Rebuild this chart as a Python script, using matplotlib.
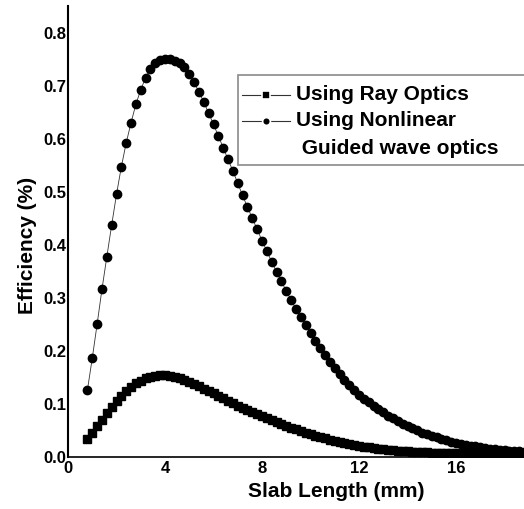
import matplotlib
matplotlib.use("Agg")
import matplotlib.pyplot as plt
from matplotlib.lines import Line2D
from matplotlib.patches import Rectangle

plt.rcParams['font.family'] = ['Liberation Sans', 'DejaVu Sans']
plt.rcParams['font.weight'] = 'bold'

# Slab length (mm), sampled every 0.2 mm
slab_length = [
    0.8, 1.0, 1.2, 1.4, 1.6, 1.8, 2.0, 2.2, 2.4, 2.6, 2.8, 3.0, 3.2, 3.4, 3.6, 3.8,
    4.0, 4.2, 4.4, 4.6, 4.8, 5.0, 5.2, 5.4, 5.6, 5.8, 6.0, 6.2, 6.4, 6.6, 6.8, 7.0,
    7.2, 7.4, 7.6, 7.8, 8.0, 8.2, 8.4, 8.6, 8.8, 9.0, 9.2, 9.4, 9.6, 9.8, 10.0, 10.2,
    10.4, 10.6, 10.8, 11.0, 11.2, 11.4, 11.6, 11.8, 12.0, 12.2, 12.4, 12.6, 12.8, 13.0,
    13.2, 13.4, 13.6, 13.8, 14.0, 14.2, 14.4, 14.6, 14.8, 15.0, 15.2, 15.4, 15.6, 15.8,
    16.0, 16.2, 16.4, 16.6, 16.8, 17.0, 17.2, 17.4, 17.6, 17.8, 18.0, 18.2, 18.4, 18.6,
    18.8, 19.0,
]

# Efficiency (%) - ray optics (squares)
eff_ray = [
    0.034, 0.046, 0.058, 0.070, 0.082, 0.094, 0.105, 0.115, 0.124, 0.132, 0.139, 0.144,
    0.148, 0.151, 0.153, 0.154, 0.154, 0.153, 0.151, 0.148, 0.145, 0.141, 0.137, 0.133,
    0.129, 0.124, 0.120, 0.115, 0.111, 0.106, 0.101, 0.097, 0.093, 0.089, 0.085, 0.081,
    0.077, 0.073, 0.069, 0.066, 0.062, 0.059, 0.055, 0.052, 0.049, 0.046, 0.043, 0.040,
    0.037, 0.035, 0.032, 0.030, 0.028, 0.026, 0.024, 0.022, 0.021, 0.019, 0.018, 0.017,
    0.016, 0.015, 0.014, 0.013, 0.012, 0.011, 0.011, 0.010, 0.010, 0.009, 0.009, 0.008,
    0.008, 0.008, 0.007, 0.007, 0.007, 0.007, 0.006, 0.006, 0.006, 0.006, 0.006, 0.005,
    0.005, 0.005, 0.005, 0.005, 0.005, 0.005, 0.005, 0.005,
]

# Efficiency (%) - nonlinear guided wave optics (circles)
eff_guided = [
    0.126, 0.186, 0.250, 0.316, 0.377, 0.437, 0.495, 0.547, 0.592, 0.630, 0.665, 0.692,
    0.715, 0.732, 0.743, 0.749, 0.751, 0.750, 0.747, 0.742, 0.735, 0.722, 0.706, 0.688,
    0.669, 0.648, 0.627, 0.605, 0.583, 0.561, 0.539, 0.516, 0.493, 0.471, 0.450, 0.429,
    0.408, 0.388, 0.368, 0.349, 0.331, 0.313, 0.296, 0.279, 0.263, 0.248, 0.233, 0.219,
    0.205, 0.192, 0.179, 0.167, 0.156, 0.145, 0.135, 0.126, 0.117, 0.110, 0.103, 0.096,
    0.090, 0.084, 0.078, 0.073, 0.068, 0.063, 0.058, 0.054, 0.050, 0.046, 0.043, 0.040,
    0.037, 0.034, 0.032, 0.029, 0.027, 0.025, 0.023, 0.021, 0.020, 0.018, 0.017, 0.016,
    0.015, 0.014, 0.013, 0.012, 0.011, 0.011, 0.010, 0.010,
]

x_ticks = [0, 4, 8, 12, 16]
y_ticks = [0.0, 0.1, 0.2, 0.3, 0.4, 0.5, 0.6, 0.7, 0.8]
legend_labels = ['Using Ray Optics', 'Using Nonlinear', ' Guided wave optics']

W, H = 524, 509
fig = plt.figure(figsize=(W / 100, H / 100), dpi=100)
ax = fig.add_axes([68 / W, 52 / H, 1 - 68 / W, 451 / H])

ax.plot(slab_length, eff_guided, color='#333333', lw=0.6, marker='o', ms=6.0,
        mfc='black', mec='black')
ax.plot(slab_length, eff_ray, color='#333333', lw=0.6, marker='s', ms=5.6,
        mfc='black', mec='black')

ax.set_xlim(0, (W - 68) / 24.25)
ax.set_ylim(0, 0.85)
ax.set_xticks(x_ticks)
ax.set_yticks(y_ticks)
ax.set_yticklabels([f'{v:.1f}' for v in y_ticks])
ax.tick_params(length=0, labelsize=12)
ax.tick_params(axis='y', pad=1)
ax.tick_params(axis='x', pad=3)
for lab in ax.get_xticklabels() + ax.get_yticklabels():
    lab.set_fontweight('bold')

ax.spines['top'].set_visible(False)
ax.spines['right'].set_visible(False)
ax.spines['left'].set_linewidth(1.5)
ax.spines['bottom'].set_linewidth(1.2)

# the original axis runs past the right edge, so the x label sits right of centre
ax.set_xlabel('Slab Length (mm)', fontsize=15, fontweight='bold')
ax.set_ylabel('Efficiency (%)', fontsize=15, fontweight='bold')
ax.xaxis.set_label_coords((336 - 68) / 456, -0.056)
ax.yaxis.set_label_coords(-0.068, 0.468)


# legend drawn by hand, positions in pixels
def fx(px):
    return px / W


def fy(py):
    return 1 - py / H


fig.patches.append(Rectangle((fx(238), fy(165)), fx(320), 90 / H, transform=fig.transFigure,
                             facecolor='white', edgecolor='#8a8a8a', lw=1.2, zorder=5))
rows = [(95, 's', 5.2), (121, 'o', 5.6)]
for (py, mk, ms) in rows:
    fig.lines.append(Line2D([fx(242), fx(290)], [fy(py), fy(py)], transform=fig.transFigure,
                            color='#333333', lw=0.8, zorder=6))
    fig.lines.append(Line2D([fx(266)], [fy(py)], transform=fig.transFigure, marker=mk, ms=ms,
                            mfc='black', mec='white', mew=1.2, ls='none', zorder=7))
fig.text(fx(296), fy(95), legend_labels[0], fontsize=15, fontweight='bold', va='center', zorder=8)
fig.text(fx(296), fy(121), legend_labels[1], fontsize=15, fontweight='bold', va='center', zorder=8)
fig.text(fx(296), fy(148), legend_labels[2], fontsize=15, fontweight='bold', va='center', zorder=8)

fig.savefig('out.png', dpi=100)
